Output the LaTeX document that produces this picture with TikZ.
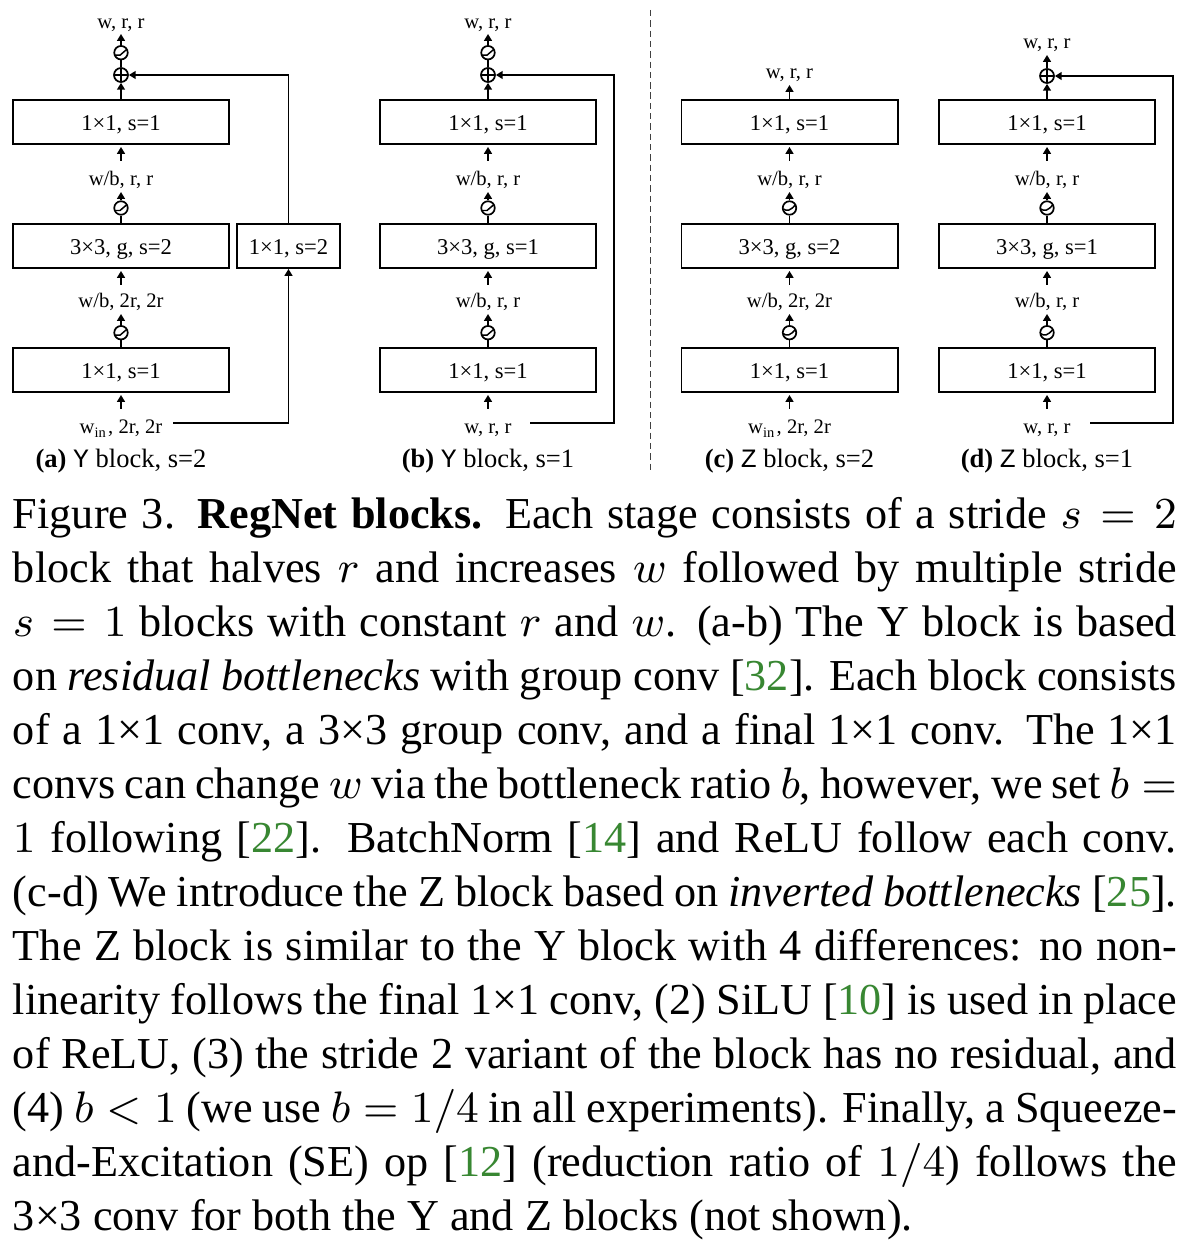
\documentclass[tikz,border=0pt]{standalone}
\usepackage{fontspec}
\setmainfont{Liberation Serif}
\setmonofont{Liberation Mono}
\usetikzlibrary{arrows.meta}
\definecolor{citegreen}{RGB}{56,135,50}
\newcommand{\cit}[1]{[\textcolor{citegreen}{#1}]}
\newcommand{\capline}[1]{\makebox[237.1pt][s]{#1}}
\tikzset{
  conv/.style={draw, line width=0.4pt, minimum width=44pt, minimum height=8.96pt, inner sep=0pt, text height=3.5pt, text depth=0pt, font=\fontsize{4.6}{5}\selectfont},
  sidebox/.style={conv, minimum width=21pt},
  lab/.style={inner sep=0pt, anchor=base, font=\fontsize{4.2}{5}\selectfont},
  pcap/.style={inner sep=0pt, anchor=base, font=\fontsize{5.4}{6.5}\selectfont},
  capl/.style={inner sep=0pt, anchor=base west, font=\fontsize{9}{11}\selectfont},
  act/.style={circle, draw, line width=0.35pt, minimum size=2.75pt, inner sep=0pt},
  relu/.style={act, path picture={\draw[line width=0.3pt] ([shift={(-6,2.5)}]path picture bounding box.center) -- ++(5,0) -- ++(7,-6);}},
  silu/.style={act, path picture={\draw[line width=0.3pt] ([shift={(-6,1)}]path picture bounding box.center) .. controls ([shift={(-3,3.5)}]path picture bounding box.center) and ([shift={(1,3)}]path picture bounding box.center) .. ([shift={(6,-3.5)}]path picture bounding box.center);}},
  plus/.style={act, minimum size=2.85pt, path picture={\draw[line width=0.3pt] (path picture bounding box.north) -- (path picture bounding box.south) (path picture bounding box.west) -- (path picture bounding box.east);}},
  arr/.style={line width=0.4pt, -{Triangle[length=1.4pt,width=1.6pt]}},
  ln/.style={line width=0.4pt},
  dashline/.style={line width=0.2pt, dash pattern=on 1.3pt off 0.8pt, black!75}
}
\begin{document}
\begin{tikzpicture}[x=0.2037pt,y=-0.2037pt]
\useasboundingbox (0,0) rectangle (1194,1244);
\fill[white] (0,0) rectangle (1194,1244);

% ---------- (a) Y block, s=2 ----------
\node[conv] (a1) at (121,122) {1×1, s=1};
\node[conv] (a2) at (121,246) {3×3, g, s=2};
\node[conv] (a3) at (121,370) {1×1, s=1};
\node[sidebox] (as) at (288.5,246) {1×1, s=2};
\node[lab] (ain) at (121,433) {w\textsubscript{in}, 2r, 2r};
\node[relu] (ar3) at (121,332.7) {};
\node[lab] (al2) at (121,308) {w/b, 2r, 2r};
\node[relu] (ar2) at (121,208) {};
\node[lab] (al1) at (121,186) {w/b, r, r};
\node[plus] (ap) at (121,75) {};
\node[relu] (ar1) at (121,52.7) {};
\node[lab] (aout) at (121,29) {w, r, r};
\node[pcap] (acap) at (121,467) {\textbf{(a)} {\ttfamily Y} block, s=2};
\draw[arr] ([shift={(0,-24)}]ain.base) -- ([shift={(0,2)}]a3.south);
\draw[ln] (a3.north) -- (ar3.south);
\draw[arr] (ar3.north) -- ([shift={(0,6)}]al2.base);
\draw[arr] ([shift={(0,-23)}]al2.base) -- ([shift={(0,2)}]a2.south);
\draw[ln] (a2.north) -- (ar2.south);
\draw[arr] (ar2.north) -- ([shift={(0,6)}]al1.base);
\draw[arr] ([shift={(0,-25)}]al1.base) -- ([shift={(0,2)}]a1.south);
\draw[arr] (a1.north) -- (ap.south);
\draw[ln] (ap.north) -- (ar1.south);
\draw[arr] (ar1.north) -- ([shift={(0,5)}]aout.base);
\coordinate (ask) at (173,423);
\draw[arr] (ask) -| (as.south);
\draw[arr] (as.north) |- (ap.east);

% ---------- (b) Y block, s=1 ----------
\node[conv] (b1) at (488,122) {1×1, s=1};
\node[conv] (b2) at (488,246) {3×3, g, s=1};
\node[conv] (b3) at (488,370) {1×1, s=1};
\node[lab] (bin) at (488,433) {w, r, r};
\node[relu] (br3) at (488,332.7) {};
\node[lab] (bl2) at (488,308) {w/b, r, r};
\node[relu] (br2) at (488,208) {};
\node[lab] (bl1) at (488,186) {w/b, r, r};
\node[plus] (bp) at (488,75) {};
\node[relu] (br1) at (488,52.7) {};
\node[lab] (bout) at (488,29) {w, r, r};
\node[pcap] (bcap) at (488,467) {\textbf{(b)} {\ttfamily Y} block, s=1};
\draw[arr] ([shift={(0,-24)}]bin.base) -- ([shift={(0,2)}]b3.south);
\draw[ln] (b3.north) -- (br3.south);
\draw[arr] (br3.north) -- ([shift={(0,6)}]bl2.base);
\draw[arr] ([shift={(0,-23)}]bl2.base) -- ([shift={(0,2)}]b2.south);
\draw[ln] (b2.north) -- (br2.south);
\draw[arr] (br2.north) -- ([shift={(0,6)}]bl1.base);
\draw[arr] ([shift={(0,-25)}]bl1.base) -- ([shift={(0,2)}]b1.south);
\draw[arr] (b1.north) -- (bp.south);
\draw[ln] (bp.north) -- (br1.south);
\draw[arr] (br1.north) -- ([shift={(0,5)}]bout.base);
\coordinate (bsk) at (530,423);
\coordinate (bc) at (614,423);
\draw[arr] (bsk) -- (bc) |- (bp.east);

% ---------- dashed separator ----------
\coordinate (dt) at (650,10);
\coordinate (db) at (650,470);
\draw[dashline] (dt) -- (db);

% ---------- (c) Z block, s=2 ----------
\node[conv] (c1) at (789.5,122) {1×1, s=1};
\node[conv] (c2) at (789.5,246) {3×3, g, s=2};
\node[conv] (c3) at (789.5,370) {1×1, s=1};
\node[lab] (cin) at (789.5,433) {w\textsubscript{in}, 2r, 2r};
\node[silu] (cr3) at (789.5,332.7) {};
\node[lab] (cl2) at (789.5,308) {w/b, 2r, 2r};
\node[silu] (cr2) at (789.5,208) {};
\node[lab] (cl1) at (789.5,186) {w/b, r, r};
\node[lab] (cout) at (789.5,79) {w, r, r};
\node[pcap] (ccap) at (789.5,467) {\textbf{(c)} {\ttfamily Z} block, s=2};
\draw[arr] ([shift={(0,-24)}]cin.base) -- ([shift={(0,2)}]c3.south);
\draw[ln] (c3.north) -- (cr3.south);
\draw[arr] (cr3.north) -- ([shift={(0,6)}]cl2.base);
\draw[arr] ([shift={(0,-23)}]cl2.base) -- ([shift={(0,2)}]c2.south);
\draw[ln] (c2.north) -- (cr2.south);
\draw[arr] (cr2.north) -- ([shift={(0,6)}]cl1.base);
\draw[arr] ([shift={(0,-25)}]cl1.base) -- ([shift={(0,2)}]c1.south);
\draw[arr] (c1.north) -- ([shift={(0,6)}]cout.base);

% ---------- (d) Z block, s=1 ----------
\node[conv] (d1) at (1047,122) {1×1, s=1};
\node[conv] (d2) at (1047,246) {3×3, g, s=1};
\node[conv] (d3) at (1047,370) {1×1, s=1};
\node[lab] (din) at (1047,433) {w, r, r};
\node[silu] (dr3) at (1047,332.7) {};
\node[lab] (dl2) at (1047,308) {w/b, r, r};
\node[silu] (dr2) at (1047,208) {};
\node[lab] (dl1) at (1047,186) {w/b, r, r};
\node[plus] (dp) at (1047,76) {};
\node[lab] (dout) at (1047,49) {w, r, r};
\node[pcap] (dcap) at (1047,467) {\textbf{(d)} {\ttfamily Z} block, s=1};
\draw[arr] ([shift={(0,-24)}]din.base) -- ([shift={(0,2)}]d3.south);
\draw[ln] (d3.north) -- (dr3.south);
\draw[arr] (dr3.north) -- ([shift={(0,6)}]dl2.base);
\draw[arr] ([shift={(0,-23)}]dl2.base) -- ([shift={(0,2)}]d2.south);
\draw[ln] (d2.north) -- (dr2.south);
\draw[arr] (dr2.north) -- ([shift={(0,6)}]dl1.base);
\draw[arr] ([shift={(0,-25)}]dl1.base) -- ([shift={(0,2)}]d1.south);
\draw[arr] (d1.north) -- (dp.south);
\draw[arr] (dp.north) -- ([shift={(0,6)}]dout.base);
\coordinate (dsk) at (1090,423);
\coordinate (dc) at (1173,423);
\draw[arr] (dsk) -- (dc) |- (dp.east);

% ---------- caption ----------
\node[capl] (l1) at (12,528) {\capline{Figure 3. \textbf{RegNet blocks.} Each stage consists of a stride $s = 2$}};
\node[capl] (l2) at (12,582) {\capline{block that halves $r$ and increases $w$ followed by multiple stride}};
\node[capl] (l3) at (12,636) {\capline{$s = 1$ blocks with constant $r$ and $w$. (a-b) The Y block is based}};
\node[capl] (l4) at (12,690) {\capline{on \emph{residual bottlenecks} with group conv \cit{32}. Each block consists}};
\node[capl] (l5) at (12,744) {\capline{of a 1×1 conv, a 3×3 group conv, and a final 1×1 conv. The 1×1}};
\node[capl] (l6) at (12,798) {\capline{convs can change $w$ via the bottleneck ratio $b$, however, we set $b =$}};
\node[capl] (l7) at (12,852) {\capline{$1$ following \cit{22}. BatchNorm \cit{14} and ReLU follow each conv.}};
\node[capl] (l8) at (12,906) {\capline{(c-d) We introduce the Z block based on \emph{inverted bottlenecks} \cit{25}.}};
\node[capl] (l9) at (12,960) {\capline{The Z block is similar to the Y block with 4 differences: no non-}};
\node[capl] (l10) at (12,1014) {\capline{linearity follows the final 1×1 conv, (2) SiLU \cit{10} is used in place}};
\node[capl] (l11) at (12,1068) {\capline{of ReLU, (3) the stride 2 variant of the block has no residual, and}};
\node[capl] (l12) at (12,1122) {\capline{(4) $b < 1$ (we use $b = 1/4$ in all experiments). Finally, a Squeeze-}};
\node[capl] (l13) at (12,1176) {\capline{and-Excitation (SE) op \cit{12} (reduction ratio of $1/4$) follows the}};
\node[capl] (l14) at (12,1230) {3×3 conv for both the Y and Z blocks (not shown).};
\end{tikzpicture}
\end{document}
